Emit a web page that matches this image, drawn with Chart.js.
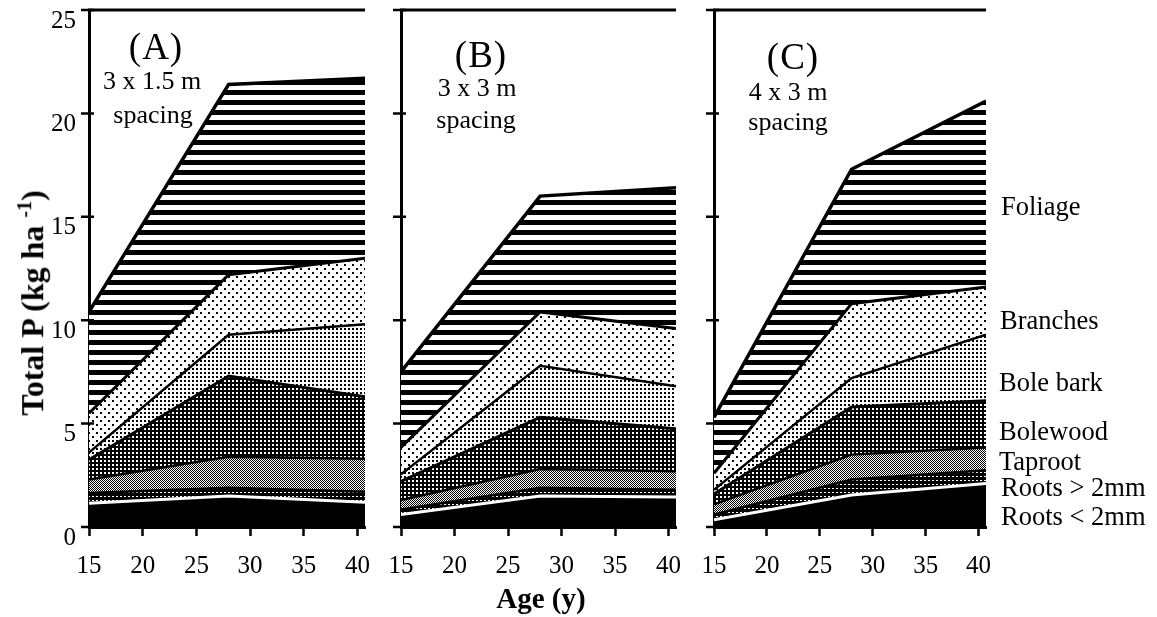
<!DOCTYPE html>
<html>
<head>
<meta charset="utf-8">
<script src="https://cdn.jsdelivr.net/npm/chart.js@4.4.1/dist/chart.umd.min.js"></script>
<style>
  body { margin: 0; background: #fff; width: 1157px; height: 617px; overflow: hidden; position: relative; font-family: "Liberation Serif", "Times New Roman", serif; }
  canvas { position: absolute; left: 0; top: 0; }
  .t { position: absolute; font-size: 25px; line-height: 1; white-space: nowrap; color: #000; transform: translate(-50%, -50%); }
  .l { position: absolute; font-size: 26.5px; line-height: 1; white-space: nowrap; color: #000; transform: translateY(-50%); }
  .big { font-size: 37px; letter-spacing: 1px; }
  .sp { font-size: 26px; }
  .b { font-weight: bold; }
</style>
</head>
<body>
<canvas id="chartA" width="1157" height="617"></canvas>
<canvas id="chartB" width="1157" height="617"></canvas>
<canvas id="chartC" width="1157" height="617"></canvas>

<div class="t big" style="left:156px;top:46px">(A)</div>
<div class="t sp" style="left:152px;top:81px">3 x 1.5 m</div>
<div class="t sp" style="left:153px;top:115px">spacing</div>
<div class="t big" style="left:481px;top:54px">(B)</div>
<div class="t sp" style="left:477px;top:88px">3 x 3 m</div>
<div class="t sp" style="left:476px;top:120px">spacing</div>
<div class="t big" style="left:793px;top:56px">(C)</div>
<div class="t sp" style="left:788px;top:92px">4 x 3 m</div>
<div class="t sp" style="left:788px;top:122px">spacing</div>

<div class="l" style="left:1001px;top:206px">Foliage</div>
<div class="l" style="left:1000px;top:320px">Branches</div>
<div class="l" style="left:999px;top:382px">Bole bark</div>
<div class="l" style="left:999px;top:431px">Bolewood</div>
<div class="l" style="left:999px;top:461px">Taproot</div>
<div class="l" style="left:1001px;top:487px">Roots &gt; 2mm</div>
<div class="l" style="left:1001px;top:516px">Roots &lt; 2mm</div>

<div class="t b" style="left:541px;top:598px;font-size:29px">Age (y)</div>
<div class="t b" style="left:31px;top:303px;font-size:32px;transform:translate(-50%,-50%) rotate(-90deg)">Total P (kg ha <sup style="font-size:20px">-1</sup>)</div>

<script>
// ages sampled in the figure (years)
const AGES = [15, 28, 40.7];
const X_TICKS = [15, 20, 25, 30, 35, 40];
const Y_MAX = 25;

// P content of each component (kg/ha), stacked bottom to top
// (A) 3 x 1.5 m spacing
const rootsFineA  = [1.15, 1.5, 1.2];
const rootsCoarseA = [0.5, 0.4, 0.5];
const taprootA    = [0.65, 1.5, 1.6];
const bolewoodA   = [0.95, 3.9, 3.0];
const boleBarkA   = [0.35, 2.0, 3.5];
const branchesA   = [1.9, 2.9, 3.2];
const foliageA    = [4.9, 9.2, 8.7];

// (B) 3 x 3 m spacing
const rootsFineB  = [0.6, 1.5, 1.45];
const rootsCoarseB = [0.25, 0.4, 0.35];
const taprootB    = [0.45, 0.9, 0.9];
const bolewoodB   = [0.9, 2.5, 2.05];
const boleBarkB   = [0.35, 2.5, 2.05];
const branchesB   = [1.3, 2.6, 2.8];
const foliageB    = [3.65, 5.6, 6.8];

// (C) 4 x 3 m spacing
const rootsFineC  = [0.35, 1.55, 2.1];
const rootsCoarseC = [0.25, 0.75, 0.65];
const taprootC    = [0.5, 1.2, 1.1];
const bolewoodC   = [0.5, 2.3, 2.25];
const boleBarkC   = [0.2, 1.4, 3.2];
const branchesC   = [0.8, 3.6, 2.3];
const foliageC    = [2.7, 6.5, 9.0];

const FONT = 'Liberation Serif';

// fill patterns imitating the print screens
const makePattern = (w, h, draw) => {
    const c = document.createElement('canvas');
    c.width = w; c.height = h;
    const g = c.getContext('2d');
    g.fillStyle = '#fff';
    g.fillRect(0, 0, w, h);
    g.fillStyle = '#000';
    draw(g);
    return g.createPattern(c, 'repeat');
}

const patterns = {
    rootsFine: '#000',
    rootsCoarse: makePattern(4, 4, g => { g.fillRect(0, 0, 4, 4); g.fillStyle = '#fff'; g.fillRect(0, 0, 2, 1); }),
    taproot: makePattern(2, 2, g => { g.fillRect(0, 0, 1, 1); g.fillRect(1, 1, 1, 1); }),
    bolewood: makePattern(4, 4, g => { g.fillRect(0, 0, 4, 4); g.fillStyle = '#fff'; g.fillRect(0, 0, 2, 2); }),
    boleBark: makePattern(4, 4, g => { g.fillRect(0, 0, 2, 2); }),
    branches: makePattern(8, 8, g => { g.fillRect(0, 0, 2, 2); g.fillRect(4, 4, 2, 2); }),
    foliage: makePattern(4, 10, g => { g.fillRect(0, 0, 4, 5); })
};

const toPoints = values => values.map((v, i) => ({ x: AGES[i], y: v }));

const buildDatasets = (series) => {
    const layers = [
        { key: 'rootsFine', label: 'Roots < 2mm', line: '#fff', width: 3 },
        { key: 'rootsCoarse', label: 'Roots > 2mm', line: '#000', width: 2.5 },
        { key: 'taproot', label: 'Taproot', line: '#000', width: 2.5 },
        { key: 'bolewood', label: 'Bolewood', line: '#000', width: 3 },
        { key: 'boleBark', label: 'Bole bark', line: '#000', width: 2.5 },
        { key: 'branches', label: 'Branches', line: '#000', width: 3 },
        { key: 'foliage', label: 'Foliage', line: '#000', width: 3.5 }
    ];
    return layers.map((layer, i) => ({
        label: layer.label,
        data: toPoints(series[i]),
        backgroundColor: patterns[layer.key],
        borderColor: layer.line,
        borderWidth: layer.width,
        fill: i === 0 ? 'origin' : '-1',
        pointRadius: 0,
        tension: 0
    }));
}

// top frame line and y tick marks crossing the axis
const framePlugin = {
    id: 'frame',
    afterDraw(chart) {
        const { ctx, chartArea: a } = chart;
        const yScale = chart.scales.y;
        ctx.save();
        ctx.strokeStyle = '#000';
        ctx.lineWidth = 3;
        ctx.beginPath();
        ctx.moveTo(a.left - 1, a.top);
        ctx.lineTo(a.right, a.top);
        ctx.stroke();
        ctx.lineWidth = 2.5;
        ctx.beginPath();
        yScale.ticks.forEach(t => {
            const py = yScale.getPixelForValue(t.value);
            ctx.moveTo(a.left - 8, py);
            ctx.lineTo(a.left + 5, py);
        });
        ctx.stroke();
        ctx.restore();
    }
}

const noPad = s => { s.paddingTop = 0; s.paddingBottom = 0; s.paddingLeft = 0; s.paddingRight = 0; };

const makePanel = (id, left, right, series, showY) => {
    new Chart(document.getElementById(id), {
        type: 'line',
        data: { datasets: buildDatasets(series) },
        options: {
            responsive: false,
            animation: false,
            layout: { padding: { left: showY ? 0 : left, right: 1157 - right, top: 10, bottom: 0 } },
            plugins: { legend: { display: false }, tooltip: { enabled: false } },
            scales: {
                x: {
                    type: 'linear',
                    min: 15,
                    max: 40.7,
                    afterBuildTicks: s => { s.ticks = X_TICKS.map(v => ({ value: v })); },
                    afterFit: s => { s.height = 90; noPad(s); },
                    ticks: { font: { family: FONT, size: 25 }, color: '#000', padding: 15, maxRotation: 0, autoSkip: false },
                    grid: { drawOnChartArea: false, tickLength: 9, tickWidth: 2.5, color: '#000' },
                    border: { display: true, color: '#000', width: 3 }
                },
                y: {
                    type: 'linear',
                    stacked: true,
                    min: 0,
                    max: Y_MAX,
                    afterFit: s => { s.width = showY ? left : 0; noPad(s); },
                    ticks: { display: showY, stepSize: 5, font: { family: FONT, size: 25 }, color: '#000', padding: 13, labelOffset: 11 },
                    grid: { drawOnChartArea: false, drawTicks: false },
                    border: { display: true, color: '#000', width: 3 }
                }
            }
        },
        plugins: [framePlugin]
    });
}

makePanel('chartA', 89, 365, [rootsFineA, rootsCoarseA, taprootA, bolewoodA, boleBarkA, branchesA, foliageA], true);
makePanel('chartB', 401, 676, [rootsFineB, rootsCoarseB, taprootB, bolewoodB, boleBarkB, branchesB, foliageB], false);
makePanel('chartC', 714, 986, [rootsFineC, rootsCoarseC, taprootC, bolewoodC, boleBarkC, branchesC, foliageC], false);
</script>
</body>
</html>
